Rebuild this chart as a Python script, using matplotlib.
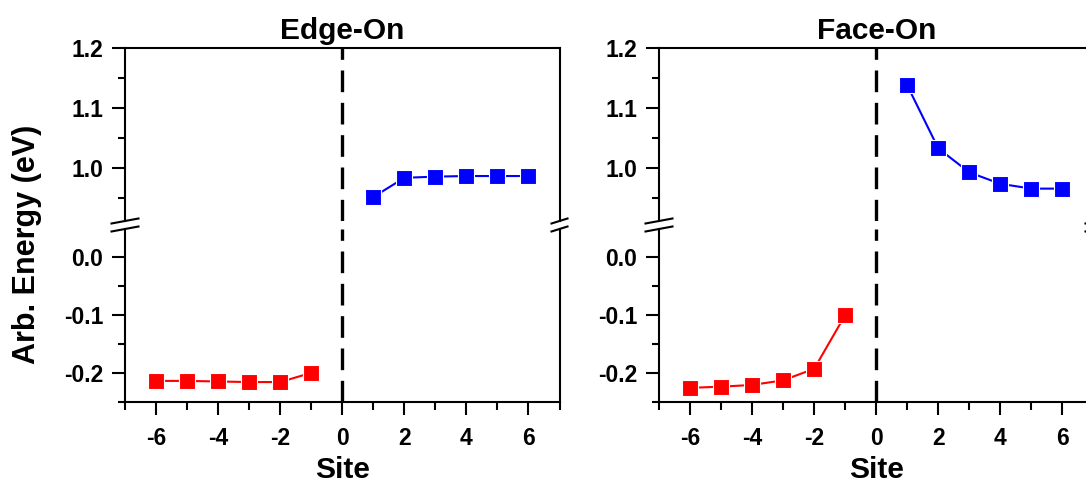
import matplotlib
matplotlib.use('Agg')
import matplotlib.pyplot as plt
from matplotlib.lines import Line2D
from matplotlib.ticker import FixedLocator, MultipleLocator, FormatStrFormatter

plt.rcParams['font.family'] = ['Liberation Sans', 'DejaVu Sans']
plt.rcParams['font.weight'] = 'bold'
plt.rcParams['axes.unicode_minus'] = False

# Sites on each side of the interface
sites_left = [-6, -5, -4, -3, -2, -1]
sites_right = [1, 2, 3, 4, 5, 6]

# Edge-On energies (eV)
edge_red = [-0.214, -0.214, -0.215, -0.216, -0.216, -0.200]
edge_blue = [0.952, 0.984, 0.986, 0.987, 0.987, 0.987]

# Face-On energies (eV)
face_red = [-0.226, -0.224, -0.221, -0.213, -0.193, -0.100]
face_blue = [1.138, 1.033, 0.993, 0.974, 0.966, 0.966]

titles = ['Edge-On', 'Face-On']

W, H = 1086, 483
LW = 1.5


def style_axes(ax):
    for sp in ax.spines.values():
        sp.set_linewidth(LW)
    ax.tick_params(axis='both', which='both', width=LW, direction='out',
                   top=False, right=False, labelsize=16.5)
    ax.tick_params(axis='y', which='major', length=9.5, pad=6)
    ax.tick_params(axis='y', which='minor', length=5)
    ax.tick_params(axis='x', which='major', length=9.5, pad=9)
    ax.tick_params(axis='x', which='minor', length=5.5)
    ax.yaxis.set_major_formatter(FormatStrFormatter('%.1f'))


def break_marks(fig, x_px, y_px, half_w):
    # two slanted strokes across the spine where the axis is broken
    for y in y_px:
        xs = [(x_px - half_w) / W, (x_px + half_w) / W]
        ys = [1 - (y + 2.5) / H, 1 - (y - 2.5) / H]
        fig.add_artist(Line2D(xs, ys, transform=fig.transFigure,
                              color='black', lw=LW, clip_on=False))


def plot_panel(fig, left_px, title, red, blue):
    width_px = 434.5
    top_px, gap_top, gap_bot, bot_px = 48.3, 221.0, 229.0, 401.7
    left = left_px / W
    width = width_px / W
    ax_top = fig.add_axes([left, 1 - gap_top / H, width, (gap_top - top_px) / H])
    ax_bot = fig.add_axes([left, 1 - bot_px / H, width, (bot_px - gap_bot) / H])

    ax_top.plot(sites_right, blue, color='#0000FF', lw=LW, marker='s', ms=11,
                mec='white', mew=0.8)
    ax_bot.plot(sites_left, red, color='#FF0000', lw=LW, marker='s', ms=11,
                mec='white', mew=0.8)

    for ax in (ax_top, ax_bot):
        ax.axvline(0, color='black', lw=2.4, dashes=(6.5, 3.2))
        style_axes(ax)
        ax.set_xlim(-7, 7)

    ax_top.set_ylim(0.912, 1.2)
    ax_bot.set_ylim(-0.25, 0.049)
    ax_top.yaxis.set_major_locator(FixedLocator([1.0, 1.1, 1.2]))
    ax_top.yaxis.set_minor_locator(FixedLocator([0.95, 1.05, 1.15]))
    ax_bot.yaxis.set_major_locator(FixedLocator([-0.2, -0.1, 0.0]))
    ax_bot.yaxis.set_minor_locator(FixedLocator([-0.25, -0.15, -0.05]))

    ax_bot.xaxis.set_major_locator(MultipleLocator(2))
    ax_bot.xaxis.set_minor_locator(MultipleLocator(1))
    ax_bot.xaxis.set_major_formatter(FormatStrFormatter('%d'))

    ax_top.spines['bottom'].set_visible(False)
    ax_bot.spines['top'].set_visible(False)
    ax_top.tick_params(axis='x', which='both', bottom=False, labelbottom=False)

    ax_top.set_title(title, fontsize=21.5, fontweight='bold', pad=7)
    ax_bot.set_xlabel('Site', fontsize=21.5, fontweight='bold', labelpad=4)

    break_marks(fig, left_px, [gap_top, gap_bot], 13.5)
    break_marks(fig, left_px + width_px, [gap_top, gap_bot], 8)
    return ax_top, ax_bot


if __name__ == "__main__":
    fig = plt.figure(figsize=(W / 100, H / 100), dpi=100)

    plot_panel(fig, 125.0, titles[0], edge_red, edge_blue)
    plot_panel(fig, 659.0, titles[1], face_red, face_blue)

    fig.text(27 / W, 1 - 244 / H, 'Arb. Energy (eV)', rotation=90,
             ha='center', va='center', fontsize=22, fontweight='bold')

    fig.savefig('out.png', dpi=100)
